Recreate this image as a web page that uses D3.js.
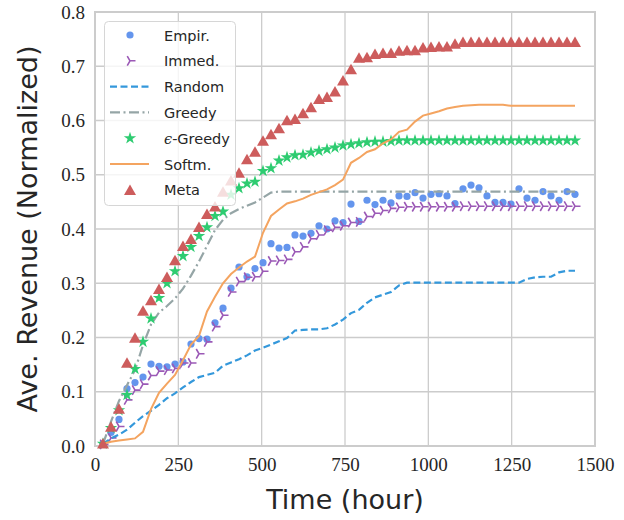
<!DOCTYPE html>
<html><head><meta charset="utf-8">
<script src="https://cdn.jsdelivr.net/npm/d3@7"></script>
<style>body{margin:0;background:#fff}svg{display:block}</style>
</head><body>
<svg id="chart" width="624" height="520"></svg>
<script>
const hours = [24,48,72,96,120,144,168,192,216,240,264,288,312,336,360,384,408,432,456,480,
  504,528,552,576,600,624,648,672,696,720,744,768,792,816,840,864,888,912,936,960,
  984,1008,1032,1056,1080,1104,1128,1152,1176,1200,1224,1248,1272,1296,1320,1344,1368,1392,1416,1440];

const empir = [0.004,0.025,0.049,0.106,0.117,0.127,0.151,0.147,0.146,0.151,0.155,0.188,0.198,0.197,0.227,0.254,0.291,0.330,0.312,0.327,
  0.338,0.373,0.365,0.366,0.389,0.387,0.392,0.406,0.400,0.415,0.412,0.446,0.414,0.453,0.445,0.453,0.448,0.461,0.460,0.467,
  0.457,0.464,0.465,0.461,0.447,0.474,0.481,0.476,0.461,0.449,0.449,0.446,0.474,0.457,0.453,0.469,0.461,0.453,0.469,0.464];

const immed = [0.003,0.015,0.036,0.085,0.103,0.114,0.130,0.138,0.140,0.143,0.153,0.153,0.170,0.192,0.220,0.241,0.284,0.303,0.311,0.312,
  0.322,0.341,0.342,0.344,0.358,0.367,0.382,0.389,0.398,0.403,0.406,0.412,0.413,0.423,0.429,0.434,0.438,0.440,0.441,0.441,
  0.441,0.441,0.441,0.441,0.441,0.442,0.442,0.442,0.442,0.442,0.442,0.442,0.442,0.442,0.442,0.442,0.442,0.442,0.442,0.442];

const random = [0.004,0.014,0.021,0.030,0.043,0.055,0.065,0.076,0.088,0.097,0.108,0.118,0.127,0.131,0.135,0.148,0.154,0.160,0.167,0.176,
  0.181,0.187,0.193,0.199,0.213,0.214,0.215,0.215,0.217,0.224,0.233,0.245,0.251,0.264,0.274,0.279,0.284,0.296,0.301,0.301,
  0.301,0.301,0.301,0.301,0.301,0.301,0.301,0.301,0.301,0.301,0.301,0.301,0.301,0.308,0.311,0.312,0.312,0.320,0.323,0.323];

const greedy = [0.004,0.045,0.083,0.112,0.140,0.186,0.224,0.246,0.258,0.272,0.290,0.314,0.340,0.369,0.398,0.417,0.429,0.437,0.443,0.449,
  0.458,0.467,0.469,0.469,0.469,0.469,0.469,0.469,0.469,0.469,0.469,0.469,0.469,0.469,0.469,0.469,0.469,0.469,0.469,0.469,
  0.469,0.469,0.469,0.469,0.469,0.469,0.469,0.469,0.469,0.469,0.469,0.469,0.469,0.469,0.469,0.469,0.469,0.469,0.469,0.469];

const epsGreedy = [0.004,0.033,0.066,0.094,0.142,0.192,0.235,0.273,0.300,0.322,0.350,0.367,0.387,0.403,0.424,0.432,0.463,0.475,0.484,0.487,
  0.507,0.512,0.526,0.532,0.536,0.537,0.541,0.544,0.547,0.550,0.554,0.556,0.558,0.560,0.561,0.561,0.562,0.563,0.563,0.563,
  0.563,0.563,0.563,0.563,0.563,0.563,0.563,0.563,0.563,0.563,0.563,0.563,0.563,0.563,0.563,0.563,0.563,0.563,0.563,0.563];

const softmax = [0.004,0.008,0.010,0.012,0.014,0.026,0.068,0.098,0.115,0.131,0.158,0.187,0.203,0.248,0.275,0.300,0.317,0.329,0.340,0.349,
  0.393,0.424,0.436,0.447,0.451,0.456,0.463,0.468,0.473,0.481,0.491,0.522,0.531,0.542,0.547,0.558,0.565,0.579,0.583,0.598,
  0.609,0.613,0.617,0.622,0.625,0.627,0.628,0.629,0.629,0.629,0.629,0.627,0.627,0.627,0.627,0.627,0.627,0.627,0.627,0.627];

const meta = [0.005,0.036,0.069,0.154,0.200,0.250,0.269,0.290,0.312,0.343,0.369,0.382,0.404,0.428,0.442,0.469,0.490,0.504,0.529,0.543,
  0.563,0.575,0.586,0.601,0.603,0.614,0.625,0.640,0.644,0.654,0.674,0.695,0.716,0.717,0.723,0.725,0.725,0.729,0.730,0.730,
  0.735,0.736,0.737,0.737,0.742,0.745,0.745,0.745,0.745,0.745,0.745,0.745,0.745,0.745,0.745,0.745,0.745,0.745,0.745,0.745];

const xTicks = [0,250,500,750,1000,1250,1500];
const yTicks = [0.0,0.1,0.2,0.3,0.4,0.5,0.6,0.7,0.8];
const legendLabels = ["Empir.","Immed.","Random","Greedy","ϵ-Greedy","Softm.","Meta"];

const C = {empir:"#6495ed", immed:"#9b59b6", random:"#3498db", greedy:"#95a5a6", eps:"#2ecc71", soft:"#f4a460", meta:"#cd5c5c"};

const svg = d3.select("#chart");
const x = d3.scaleLinear().domain([0,1500]).range([95,595]);
const y = d3.scaleLinear().domain([0,0.8]).range([446,12]);

// grid
const grid = svg.append("g");
grid.selectAll("line.v").data(xTicks).join("line")
  .attr("x1",d=>x(d)).attr("x2",d=>x(d)).attr("y1",y(0.8)).attr("y2",y(0))
  .attr("stroke","#cccccc").attr("stroke-width",1.3);
grid.selectAll("line.h").data(yTicks).join("line")
  .attr("x1",x(0)).attr("x2",x(1500)).attr("y1",d=>y(d)).attr("y2",d=>y(d))
  .attr("stroke","#cccccc").attr("stroke-width",1.3);
svg.append("rect").attr("x",x(0)).attr("y",y(0.8)).attr("width",x(1500)-x(0)).attr("height",y(0)-y(0.8))
  .attr("fill","none").attr("stroke","#cccccc").attr("stroke-width",2);

// axes (tick labels)
const xAxis = svg.append("g").attr("transform",`translate(0,${y(0)})`)
  .call(d3.axisBottom(x).tickValues(xTicks).tickSize(0).tickPadding(12).tickFormat(d3.format("d")));
const yAxis = svg.append("g").attr("transform",`translate(${x(0)},0)`)
  .call(d3.axisLeft(y).tickValues(yTicks).tickSize(0).tickPadding(10).tickFormat(d3.format(".1f")));
[xAxis,yAxis].forEach(a=>{
  a.select(".domain").remove();
  a.selectAll("text").attr("font-family","'Liberation Serif', serif").attr("font-size",19).attr("fill","#262626");
});

svg.append("text").attr("x",(x(0)+x(1500))/2).attr("y",509).attr("text-anchor","middle")
  .attr("font-family","'DejaVu Sans', sans-serif").attr("font-size",27).attr("fill","#262626").text("Time (hour)");
svg.append("text").attr("transform",`translate(37,${(y(0)+y(0.8))/2}) rotate(-90)`).attr("text-anchor","middle")
  .attr("font-family","'DejaVu Sans', sans-serif").attr("font-size",27).attr("fill","#262626").text("Ave. Revenue (Normalized)");

const data = s => hours.map((h,i)=>({h, v:s[i]}));
const line = d3.line().x(d=>x(d.h)).y(d=>y(d.v));

const triRight = r => `M0,0L${r},0M0,0L${-r*0.5},${-r*0.866}M0,0L${-r*0.5},${r*0.866}`;
const triUp = (w,h) => `M0,${-h/2}L${w/2},${h/2}L${-w/2},${h/2}Z`;
const star = d3.symbol().type(d3.symbolStar).size(48)();

const plot = svg.append("g");
// Empir
plot.append("g").selectAll("circle").data(data(empir)).join("circle")
  .attr("cx",d=>x(d.h)).attr("cy",d=>y(d.v)).attr("r",3.6).attr("fill",C.empir);
// Immed
plot.append("g").selectAll("path").data(data(immed)).join("path")
  .attr("transform",d=>`translate(${x(d.h)},${y(d.v)})`).attr("d",triRight(5.5))
  .attr("stroke",C.immed).attr("stroke-width",1.6).attr("fill","none");
// Random
plot.append("path").datum(data(random)).attr("d",line).attr("fill","none")
  .attr("stroke",C.random).attr("stroke-width",2.2).attr("stroke-dasharray","7,3.5");
// Greedy
plot.append("path").datum(data(greedy)).attr("d",line).attr("fill","none")
  .attr("stroke",C.greedy).attr("stroke-width",2.2).attr("stroke-dasharray","10,3.5,2,3.5");
// eps-greedy
plot.append("g").selectAll("path").data(data(epsGreedy)).join("path")
  .attr("transform",d=>`translate(${x(d.h)},${y(d.v)})`).attr("d",star).attr("fill",C.eps);
// Softmax
plot.append("path").datum(data(softmax)).attr("d",line).attr("fill","none")
  .attr("stroke",C.soft).attr("stroke-width",2);
// Meta
plot.append("g").selectAll("path").data(data(meta)).join("path")
  .attr("transform",d=>`translate(${x(d.h)},${y(d.v)})`).attr("d",triUp(12,10.5)).attr("fill",C.meta);

// legend
const lg = svg.append("g");
lg.append("rect").attr("x",104.5).attr("y",21.5).attr("width",131).attr("height",184).attr("rx",4)
  .attr("fill","rgba(255,255,255,0.8)").attr("stroke","#d6d6d6").attr("stroke-width",1);
const rowY = i => 35 + i*25.8;
const lx1 = 110, lx2 = 149, mx = 130;
legendLabels.forEach((lab,i)=>{
  const g = lg.append("g").attr("transform",`translate(0,${rowY(i)})`);
  if(i===0) g.append("circle").attr("cx",mx).attr("cy",0).attr("r",3.6).attr("fill",C.empir);
  if(i===1) g.append("path").attr("transform",`translate(${mx},0)`).attr("d",triRight(5.5)).attr("stroke",C.immed).attr("stroke-width",1.6).attr("fill","none");
  if(i===2) g.append("line").attr("x1",lx1).attr("x2",lx2).attr("stroke",C.random).attr("stroke-width",2.2).attr("stroke-dasharray","7,3.5");
  if(i===3) g.append("line").attr("x1",lx1).attr("x2",lx2).attr("stroke",C.greedy).attr("stroke-width",2.2).attr("stroke-dasharray","10,3.5,2,3.5");
  if(i===4) g.append("path").attr("transform",`translate(${mx},0)`).attr("d",star).attr("fill",C.eps);
  if(i===5) g.append("line").attr("x1",lx1).attr("x2",lx2).attr("stroke",C.soft).attr("stroke-width",2);
  if(i===6) g.append("path").attr("transform",`translate(${mx},0)`).attr("d",triUp(12,10.5)).attr("fill",C.meta);
  const t = g.append("text").attr("x",164).attr("y",5.5).attr("font-family","'DejaVu Sans', sans-serif")
    .attr("font-size",14.5).attr("fill","#262626");
  if(lab.startsWith("ϵ")){
    t.append("tspan").attr("font-family","'DejaVu Serif', serif").attr("font-style","italic").text("ϵ");
    t.append("tspan").text(lab.slice(1));
  } else t.text(lab);
});
</script>
</body></html>
